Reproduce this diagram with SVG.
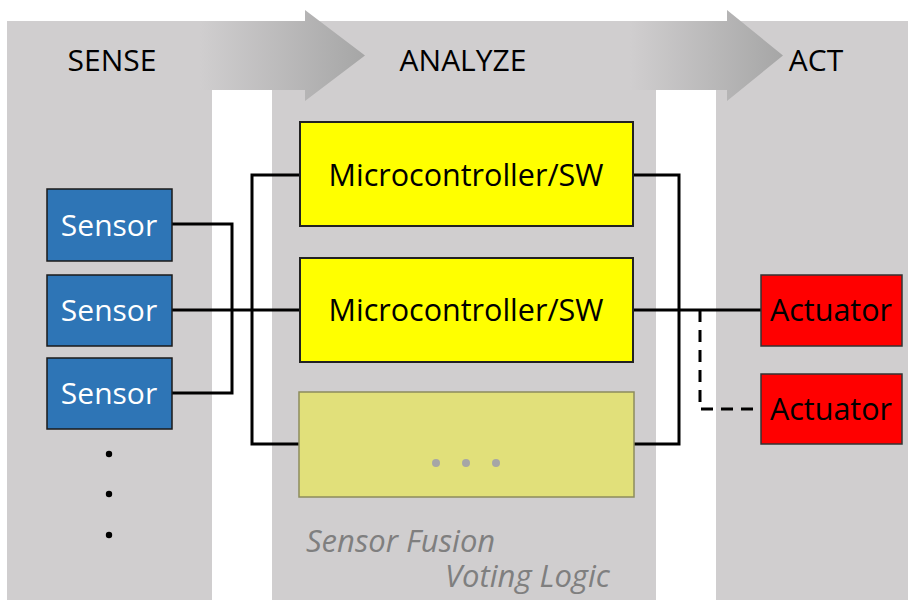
<svg xmlns="http://www.w3.org/2000/svg" width="908" height="600" viewBox="0 0 908 600">
<defs>
<linearGradient id="g1" gradientUnits="userSpaceOnUse" x1="200" y1="0" x2="365" y2="0">
<stop offset="0" stop-color="#d0cecf"/><stop offset="1" stop-color="#a6a6a6"/>
</linearGradient>
<linearGradient id="g2" gradientUnits="userSpaceOnUse" x1="630" y1="0" x2="783" y2="0">
<stop offset="0" stop-color="#d0cecf"/><stop offset="1" stop-color="#a6a6a6"/>
</linearGradient>
<style>
.col{fill:#d0cecf}
.hd{font-family:"Open Sans","Noto Sans",sans-serif;font-size:30px;fill:#000;text-anchor:middle}
.sen rect{fill:#2e75b6;stroke:#1a1a1a;stroke-width:1.5}
.sen text{font-family:"Open Sans","Noto Sans",sans-serif;font-size:30px;fill:#fff;text-anchor:middle}
.mcu rect{fill:#ffff00;stroke:#222;stroke-width:2}
.mcu text{font-family:"Open Sans","Noto Sans",sans-serif;font-size:30.5px;fill:#000;text-anchor:middle}
.act rect{fill:#ff0000;stroke:#333;stroke-width:1.5}
.act text{font-family:"Open Sans","Noto Sans",sans-serif;font-size:30.5px;fill:#000;text-anchor:middle}
.ln{fill:none;stroke:#000;stroke-width:3}
.it{font-family:"Open Sans","Noto Sans",sans-serif;font-size:31px;font-style:italic;fill:#7f7f7f}
</style>
</defs>
<g id="background">
<rect class="col" x="7" y="21" width="205" height="579"/>
<rect class="col" x="272" y="21" width="384" height="579"/>
<rect class="col" x="716" y="21" width="192" height="579"/>
<polygon points="200,21 305,21 305,10 365,55.5 305,101 305,90 200,90" fill="url(#g1)"/>
<polygon points="630,21 727,21 727,10 783,55.5 727,101 727,90 630,90" fill="url(#g2)"/>
<text class="hd" x="112" y="71">SENSE</text>
<text class="hd" x="463" y="71">ANALYZE</text>
<text class="hd" x="816" y="71">ACT</text>
</g>
<g id="connectors">
<polyline class="ln" points="172,224 232,224 232,393 172,393"/>
<line class="ln" x1="172" y1="310" x2="300" y2="310"/>
<polyline class="ln" points="300,175 252,175 252,444 300,444"/>
<polyline class="ln" points="633,175 679,175 679,444 634,444"/>
<line class="ln" x1="633" y1="310" x2="761" y2="310"/>
<polyline class="ln" points="700,310 700,409 761,409" stroke-dasharray="12,8"/>
</g>
<g id="sensor1" class="sen"><rect x="47" y="189" width="125" height="72"/><text x="109" y="236">Sensor</text></g>
<g id="sensor2" class="sen"><rect x="47" y="275" width="125" height="71"/><text x="109" y="321">Sensor</text></g>
<g id="sensor3" class="sen"><rect x="47" y="358" width="125" height="71"/><text x="109" y="404">Sensor</text></g>
<g id="sensor-more" fill="#000">
<circle cx="109" cy="454" r="3.2"/><circle cx="109" cy="494" r="3.2"/><circle cx="109" cy="535" r="3.2"/>
</g>
<g id="mcu1" class="mcu"><rect x="300" y="122" width="333" height="104"/><text x="466" y="186">Microcontroller/SW</text></g>
<g id="mcu2" class="mcu"><rect x="300" y="258" width="333" height="104"/><text x="466" y="321">Microcontroller/SW</text></g>
<g id="mcu3">
<rect x="299" y="392" width="335" height="105" fill="#e1e07a" stroke="#8c8c5e" stroke-width="1.5"/>
<circle cx="436" cy="463" r="4" fill="#a6a6a6"/><circle cx="466" cy="463" r="4" fill="#a6a6a6"/><circle cx="496" cy="463" r="4" fill="#a6a6a6"/>
</g>
<g id="act1" class="act"><rect x="761" y="275" width="141" height="71"/><text x="831" y="321">Actuator</text></g>
<g id="act2" class="act"><rect x="761" y="374" width="141" height="70"/><text x="831" y="420">Actuator</text></g>
<g id="labels">
<text class="it" x="306" y="552">Sensor Fusion</text>
<text class="it" x="445" y="587">Voting Logic</text>
</g>
</svg>
